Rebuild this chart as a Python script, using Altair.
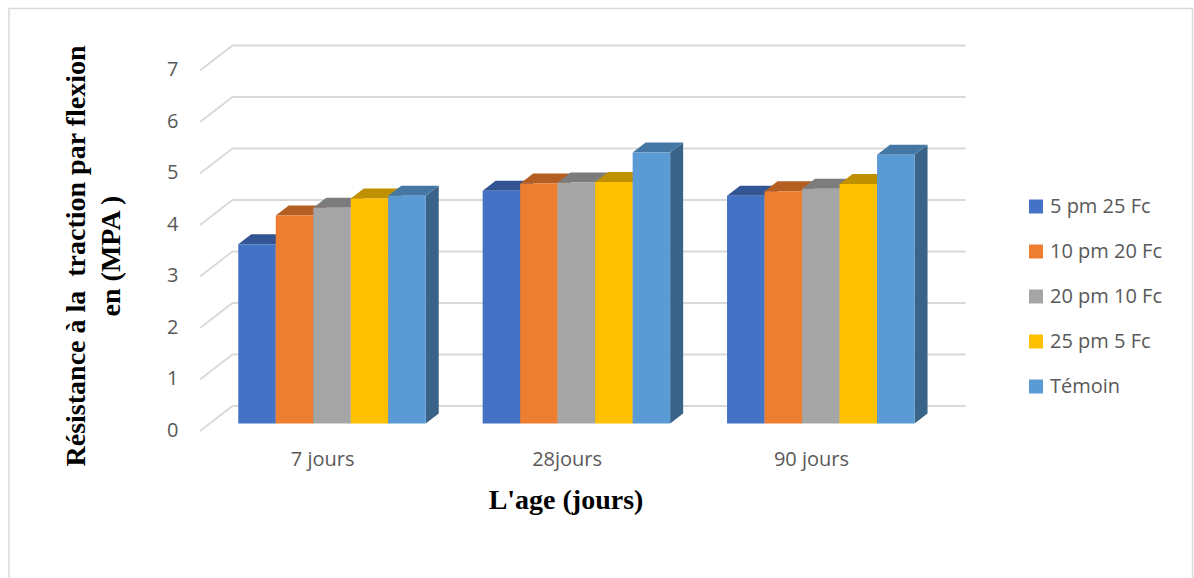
import json

import altair as alt
import pandas as pd

# Measured strength per age and mix
categories = ["7 jours", "28jours", "90 jours"]
series = ["5 pm 25 Fc", "10 pm 20 Fc", "20 pm 10 Fc", "25 pm 5 Fc", "Témoin"]
values_7j = [3.48, 4.04, 4.19, 4.37, 4.42]
values_28j = [4.52, 4.66, 4.68, 4.69, 5.26]
values_90j = [4.42, 4.51, 4.56, 4.65, 5.22]
ticks = [0, 1, 2, 3, 4, 5, 6, 7]

front_colors = ["#4472C4", "#ED7D31", "#A5A5A5", "#FFC000", "#5B9BD5"]
top_colors = ["#335593", "#B55E22", "#7C7C7C", "#BF9000", "#4577A5"]
side_colors = ["#2A4674", "#8E4A1C", "#636363", "#997300", "#3A6487"]

# Oblique projection: a unit of depth shifts a point along both data axes
PX_PER_CAT = 244.4
PX_PER_UNIT = 51.5
DEPTH_X = 32.5 / PX_PER_CAT
DEPTH_Y = 25 / PX_PER_UNIT
BAR_W = 37.5 / PX_PER_CAT
GROUP_PAD = 28.5 / PX_PER_CAT
BAR_NEAR = 0.3
BAR_FAR = 0.7

ORIGIN_X = 200.0
ORIGIN_Y = 431.0
W, H = 1194, 578

x_scale = alt.Scale(
    domain=[-ORIGIN_X / PX_PER_CAT, (W - ORIGIN_X) / PX_PER_CAT], nice=False, zero=False
)
y_scale = alt.Scale(
    domain=[(ORIGIN_Y - H) / PX_PER_UNIT, ORIGIN_Y / PX_PER_UNIT], nice=False, zero=False
)

grey = "#595959"
sans = "Open Sans"
serif = "Liberation Serif"
label_size = 20

x_axis = alt.Axis(
    values=[i + 0.5 for i in range(len(categories))],
    labelExpr=f"{json.dumps(categories)}[floor(datum.value)]",
    offset=-(H - 459),
    domain=False,
    ticks=False,
    grid=False,
    labelPadding=0,
    labelBaseline="middle",
    labelFont=sans,
    labelFontSize=label_size,
    labelColor=grey,
    labelFlush=False,
    title=None,
)
y_axis = alt.Axis(
    values=ticks,
    format="d",
    offset=-178,
    domain=False,
    ticks=False,
    grid=False,
    labelPadding=0,
    labelOffset=-1,
    labelFont=sans,
    labelFontSize=label_size,
    labelColor=grey,
    labelFlush=False,
    title=None,
)

# Wall and side gridlines: each value runs from the front edge to the back, then across
grid_rows = []
for t in ticks:
    grid_rows += [
        {"tick": t, "c": 0, "v": t, "step": 0},
        {"tick": t, "c": DEPTH_X, "v": t + DEPTH_Y, "step": 1},
        {"tick": t, "c": len(categories) + DEPTH_X, "v": t + DEPTH_Y, "step": 2},
    ]
grid_df = pd.DataFrame(grid_rows)

front_rows, top_rows, side_rows = [], [], []
dx_near = BAR_NEAR * DEPTH_X
dy_near = BAR_NEAR * DEPTH_Y
dx_depth = (BAR_FAR - BAR_NEAR) * DEPTH_X
dy_depth = (BAR_FAR - BAR_NEAR) * DEPTH_Y

for g, group_values in enumerate([values_7j, values_28j, values_90j]):
    for s, v in enumerate(group_values):
        bar = f"{g}-{s}"
        x0 = g + GROUP_PAD + s * BAR_W + dx_near
        x1 = x0 + BAR_W
        top = v + dy_near
        base = dy_near
        front_rows.append(
            {"age": categories[g], "series": series[s], "value": v,
             "x0": x0, "x1": x1, "base": base, "top": top}
        )
        for px, lo, hi in [
            (x0, top, top),
            (x0 + dx_depth, top, top + dy_depth),
            (x1, top, top + dy_depth),
            (x1 + dx_depth, top + dy_depth, top + dy_depth),
        ]:
            top_rows.append({"bar": bar, "color": top_colors[s], "px": px, "lo": lo, "hi": hi})
        for px, lo, hi in [
            (x1, base, top),
            (x1 + dx_depth, base + dy_depth, top + dy_depth),
        ]:
            side_rows.append({"bar": bar, "color": side_colors[s], "px": px, "lo": lo, "hi": hi})

front_df = pd.DataFrame(front_rows)
top_df = pd.DataFrame(top_rows)
side_df = pd.DataFrame(side_rows)

grid = (
    alt.Chart(grid_df)
    .mark_line(color="#D9D9D9", strokeWidth=1.8)
    .encode(
        x=alt.X("c:Q", scale=x_scale, axis=x_axis),
        y=alt.Y("v:Q", scale=y_scale, axis=y_axis),
        detail="tick:N",
        order="step:O",
    )
)


def faces(frame):
    return (
        alt.Chart(frame)
        .mark_area(line=False, opacity=1)
        .encode(
            x=alt.X("px:Q", scale=x_scale, axis=x_axis),
            y=alt.Y("lo:Q", scale=y_scale, axis=y_axis, stack=None),
            y2="hi:Q",
            color=alt.Color("color:N", scale=None),
            detail="bar:N",
        )
    )


fronts = (
    alt.Chart(front_df)
    .mark_rect()
    .encode(
        x=alt.X("x0:Q", scale=x_scale, axis=x_axis),
        x2="x1:Q",
        y=alt.Y("base:Q", scale=y_scale, axis=y_axis),
        y2="top:Q",
        color=alt.Color(
            "series:N",
            scale=alt.Scale(domain=series, range=front_colors),
            legend=alt.Legend(
                title=None,
                orient="none",
                legendX=1026,
                legendY=184,
                symbolType="square",
                symbolSize=196,
                symbolStrokeWidth=0,
                symbolOpacity=1,
                clipHeight=45,
                rowPadding=0,
                labelOffset=4,
                labelFont=sans,
                labelFontSize=label_size,
                labelColor=grey,
                labelLimit=200,
            ),
        ),
    )
)

border = (
    alt.Chart(pd.DataFrame({"frame": [1]}))
    .mark_rect(filled=False, stroke="#D9D9D9", strokeWidth=1.5)
    .encode(
        x=alt.value(9),
        x2=alt.value(1192.5),
        y=alt.value(8.5),
        y2=alt.value(620),
    )
)


def label(text, px, py, size, angle=0):
    return (
        alt.Chart(pd.DataFrame({"text": [text]}))
        .mark_text(
            font=serif,
            fontWeight="bold",
            fontSize=size,
            color="#000000",
            angle=angle,
            align="center",
            baseline="middle",
        )
        .encode(x=alt.value(px), y=alt.value(py), text="text:N")
    )


y_title_1 = label("Résistance à la\u00a0 traction par flexion", 77, 256, 28, 270)
y_title_2 = label("en (MPA )", 112, 256, 28, 270)
x_title = label("L'age (jours)", 566, 501, 28)

chart = (
    alt.layer(border, grid, faces(side_df), faces(top_df), fronts, y_title_1, y_title_2, x_title)
    .resolve_scale(color="independent")
    .properties(
        width=W,
        height=H,
        padding=0,
        background="#FFFFFF",
        autosize=alt.AutoSizeParams(type="none", contains="padding"),
    )
    .configure_view(stroke=None)
)

chart.save("out.html", embed_options={"renderer": "svg", "actions": False})
